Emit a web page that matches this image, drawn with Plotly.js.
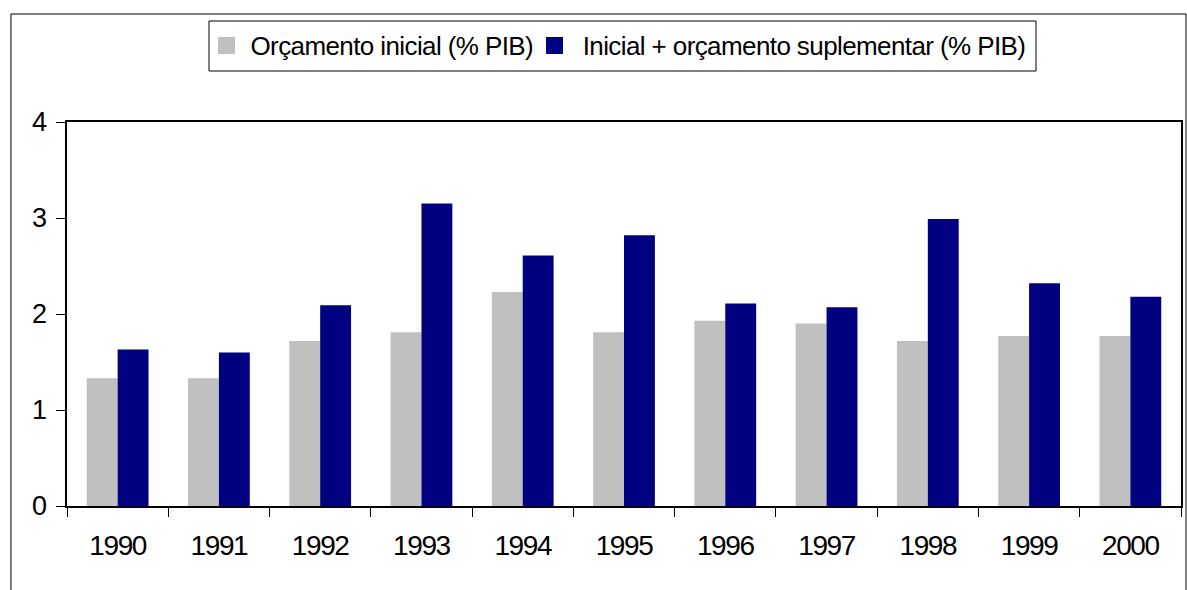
<!DOCTYPE html>
<html>
<head>
<meta charset="utf-8">
<script src="https://cdn.plot.ly/plotly-3.0.1.min.js"></script>
<style>
html,body{margin:0;padding:0;background:#fff;}
#chart{width:1187px;height:590px;}
#chart svg .annotation text{letter-spacing:-0.6px;}
#chart svg .xtick text, #chart svg .ytick text{letter-spacing:-1.4px;}
</style>
</head>
<body>
<div id="chart"></div>
<script>
const years = ["1990","1991","1992","1993","1994","1995","1996","1997","1998","1999","2000"];
const orcamentoInicial = [1.33, 1.33, 1.72, 1.81, 2.23, 1.81, 1.93, 1.90, 1.72, 1.77, 1.77];
const inicialMaisSuplementar = [1.63, 1.60, 2.09, 3.15, 2.61, 2.82, 2.11, 2.07, 2.99, 2.32, 2.18];
const seriesNames = ["Orçamento inicial (% PIB)", "Inicial + orçamento suplementar (% PIB)"];
const seriesColors = ["#C0C0C0", "#000080"];
const yTicks = [0, 1, 2, 3, 4];

const fontFam = "'Liberation Sans', Arial, sans-serif";

const traces = [
  {type: "bar", name: seriesNames[0], x: years, y: orcamentoInicial,
   marker: {color: seriesColors[0], line: {width: 0}}},
  {type: "bar", name: seriesNames[1], x: years, y: inicialMaisSuplementar,
   marker: {color: seriesColors[1], line: {width: 0}}}
];

// legend drawn in paper coordinates
const legendBox = {x0: 0.12747, x1: 0.86984, y0: 1.13281, y1: 1.26302};
const legendSquares = [[0.13555, 0.15081], [0.42998, 0.44524]];
const legendTextX = [0.15709, 0.45153];
const legendSqY = [1.17708, 1.22135];
const legendTextY = 1.199;

const shapes = [
  {type: "rect", xref: "paper", yref: "paper",
   x0: -0.0503, x1: 1.0045, y0: -0.3, y1: 1.28125,
   line: {color: "#000", width: 1}, fillcolor: "rgba(0,0,0,0)", layer: "below"},
  {type: "rect", xref: "paper", yref: "paper",
   x0: legendBox.x0, x1: legendBox.x1, y0: legendBox.y0, y1: legendBox.y1,
   line: {color: "#000", width: 1}, fillcolor: "#fff", layer: "above"}
];
const annotations = [];
seriesNames.forEach((nm, i) => {
  shapes.push({type: "rect", xref: "paper", yref: "paper",
    x0: legendSquares[i][0], x1: legendSquares[i][1], y0: legendSqY[0], y1: legendSqY[1],
    line: {width: 0}, fillcolor: seriesColors[i], layer: "above"});
  annotations.push({xref: "paper", yref: "paper", x: legendTextX[i], y: legendTextY,
    xanchor: "left", yanchor: "middle", showarrow: false, text: nm, borderpad: 0,
    font: {family: fontFam, size: 26, color: "#000"}});
});

const layout = {
  width: 1187, height: 590,
  margin: {l: 67, r: 6, t: 122, b: 84, pad: 0},
  paper_bgcolor: "#fff", plot_bgcolor: "#fff",
  font: {family: fontFam, size: 26, color: "#000"},
  barmode: "group",
  bargap: 0.39,
  bargroupgap: 0,
  showlegend: false,
  xaxis: {
    type: "category", tickvals: years, ticktext: years,
    tickson: "boundaries", ticks: "outside", ticklen: 9, tickwidth: 1, tickcolor: "#000",
    ticklabelstandoff: 13,
    showline: true, linecolor: "#000", linewidth: 2, mirror: true,
    showgrid: false, zeroline: false,
    tickfont: {family: fontFam, size: 28, color: "#000"}, automargin: false
  },
  yaxis: {
    range: [0, 4], tickvals: yTicks, ticktext: yTicks.map(String),
    ticks: "outside", ticklen: 9, tickwidth: 1, tickcolor: "#000",
    ticklabelstandoff: 5,
    showline: true, linecolor: "#000", linewidth: 2, mirror: true,
    showgrid: false, zeroline: false,
    tickfont: {family: fontFam, size: 27, color: "#000"}, automargin: false
  },
  shapes: shapes,
  annotations: annotations
};

Plotly.newPlot("chart", traces, layout, {displayModeBar: false, staticPlot: true});
</script>
</body>
</html>
